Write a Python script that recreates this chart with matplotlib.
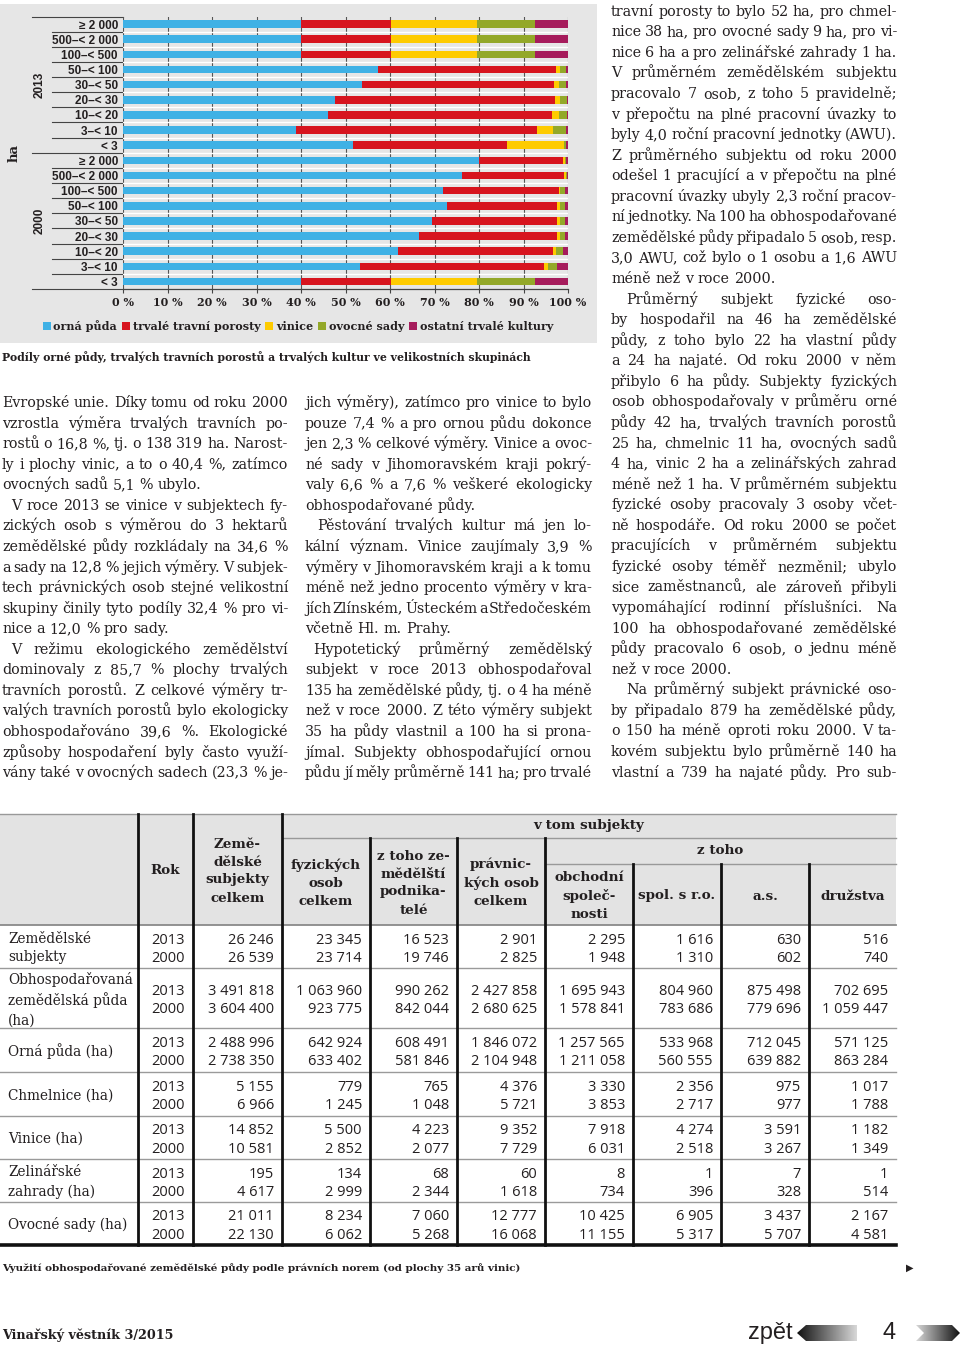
import numpy as np
import matplotlib
matplotlib.use('Agg')
import matplotlib.pyplot as plt
from matplotlib.font_manager import FontProperties
from matplotlib.patches import Polygon, Rectangle
from matplotlib.colors import LinearSegmentedColormap

W, H = 960, 1349
INK = '#231f20'

# --- graf: podíly kultur ve velikostních skupinách (%) ---
groups = ['≥ 2 000', '500–< 2 000', '100–< 500', '50–< 100', '30–< 50',
          '20–< 30', '10–< 20', '3–< 10', '< 3']
years = ['2013', '2000']
series = ['orná půda', 'trvalé travní porosty', 'vinice', 'ovocné sady',
          'ostatní trvalé kultury']
colors = ['#3fb1e5', '#d7141e', '#fecb00', '#93a829', '#a61c5c']

orna = [40.0, 40.0, 40.0, 57.4, 53.6, 47.6, 46.1, 38.9, 51.6,
        80.1, 76.2, 72.0, 72.7, 69.5, 66.6, 61.9, 53.3, 40.0]
ttp = [20.2, 20.2, 20.2, 40.0, 43.3, 49.5, 50.2, 54.2, 34.8,
       18.7, 23.0, 25.9, 24.9, 28.1, 31.0, 34.8, 41.4, 20.2]
vinice = [19.3, 19.3, 19.3, 0.8, 1.0, 1.1, 1.6, 3.6, 12.6,
          0.5, 0.4, 0.3, 0.6, 0.6, 0.6, 0.5, 0.7, 19.3]
sady = [13.1, 13.1, 13.1, 1.3, 1.6, 1.5, 1.8, 2.8, 0.5,
        0.2, 0.1, 1.1, 1.1, 1.1, 1.1, 1.6, 2.2, 13.1]
ostatni = [7.4, 7.4, 7.4, 0.5, 0.5, 0.3, 0.3, 0.5, 0.5,
           0.5, 0.3, 0.7, 0.7, 0.7, 0.7, 1.2, 2.4, 7.4]

# --- tabulka ---
tab_rows = ['Zemědělské\nsubjekty', 'Obhospodařovaná\nzemědělská půda\n(ha)',
            'Orná půda (ha)', 'Chmelnice (ha)', 'Vinice (ha)',
            'Zelinářské\nzahrady (ha)', 'Ovocné sady (ha)']
tab_head = ['Rok', 'Země-\ndělské\nsubjekty\ncelkem', 'fyzických\nosob\ncelkem',
            'z toho ze-\nmědělští\npodnika-\ntelé', 'právnic-\nkých osob\ncelkem',
            'obchodní\nspoleč-\nnosti', 'spol. s r.o.', 'a.s.', 'družstva']
col_celkem = ['26 246', '26 539', '3 491 818', '3 604 400', '2 488 996', '2 738 350',
              '5 155', '6 966', '14 852', '10 581', '195', '4 617', '21 011', '22 130']
col_fyz = ['23 345', '23 714', '1 063 960', '923 775', '642 924', '633 402',
           '779', '1 245', '5 500', '2 852', '134', '2 999', '8 234', '6 062']
col_podn = ['16 523', '19 746', '990 262', '842 044', '608 491', '581 846',
            '765', '1 048', '4 223', '2 077', '68', '2 344', '7 060', '5 268']
col_pravn = ['2 901', '2 825', '2 427 858', '2 680 625', '1 846 072', '2 104 948',
             '4 376', '5 721', '9 352', '7 729', '60', '1 618', '12 777', '16 068']
col_obch = ['2 295', '1 948', '1 695 943', '1 578 841', '1 257 565', '1 211 058',
            '3 330', '3 853', '7 918', '6 031', '8', '734', '10 425', '11 155']
col_sro = ['1 616', '1 310', '804 960', '783 686', '533 968', '560 555',
           '2 356', '2 717', '4 274', '2 518', '1', '396', '6 905', '5 317']
col_as = ['630', '602', '875 498', '779 696', '712 045', '639 882',
          '975', '977', '3 591', '3 267', '7', '328', '3 437', '5 707']
col_druz = ['516', '740', '702 695', '1 059 447', '571 125', '863 284',
            '1 017', '1 788', '1 182', '1 349', '1', '514', '2 167', '4 581']

# --- text článku: (odsazení, řádky, pokračuje dál) ---
text_left = [
    (0, ['Evropské unie. Díky tomu od roku 2000',
         'vzrostla výměra trvalých travních po-',
         'rostů o 16,8 %, tj. o 138 319 ha. Narost-',
         'ly i plochy vinic, a to o 40,4 %, zatímco',
         'ovocných sadů 5,1 % ubylo.'], False),
    (9, ['V roce 2013 se vinice v subjektech fy-',
         'zických osob s výměrou do 3 hektarů',
         'zemědělské půdy rozkládaly na 34,6 %',
         'a sady na 12,8 % jejich výměry. V subjek-',
         'tech právnických osob stejné velikostní',
         'skupiny činily tyto podíly 32,4 % pro vi-',
         'nice a 12,0 % pro sady.'], False),
    (9, ['V režimu ekologického zemědělství',
         'dominovaly z 85,7 % plochy trvalých',
         'travních porostů. Z celkové výměry tr-',
         'valých travních porostů bylo ekologicky',
         'obhospodařováno 39,6 %. Ekologické',
         'způsoby hospodaření byly často využí-',
         'vány také v ovocných sadech (23,3 % je-'], True),
]
text_mid = [
    (0, ['jich výměry), zatímco pro vinice to bylo',
         'pouze 7,4 % a pro ornou půdu dokonce',
         'jen 2,3 % celkové výměry. Vinice a ovoc-',
         'né sady v Jihomoravském kraji pokrý-',
         'valy 6,6 % a 7,6 % veškeré ekologicky',
         'obhospodařované půdy.'], False),
    (12, ['Pěstování trvalých kultur má jen lo-',
          'kální význam. Vinice zaujímaly 3,9 %',
          'výměry v Jihomoravském kraji a k tomu',
          'méně než jedno procento výměry v kra-',
          'jích Zlínském, Ústeckém a Středočeském',
          'včetně Hl. m. Prahy.'], False),
    (8, ['Hypotetický průměrný zemědělský',
         'subjekt v roce 2013 obhospodařoval',
         '135 ha zemědělské půdy, tj. o 4 ha méně',
         'než v roce 2000. Z této výměry subjekt',
         '35 ha půdy vlastnil a 100 ha si prona-',
         'jímal. Subjekty obhospodařující ornou',
         'půdu jí měly průměrně 141 ha; pro trvalé'], True),
]
text_right = [
    (0, ['travní porosty to bylo 52 ha, pro chmel-',
         'nice 38 ha, pro ovocné sady 9 ha, pro vi-',
         'nice 6 ha a pro zelinářské zahrady 1 ha.',
         'V průměrném zemědělském subjektu',
         'pracovalo 7 osob, z toho 5 pravidelně;',
         'v přepočtu na plné pracovní úvazky to',
         'byly 4,0 roční pracovní jednotky (AWU).',
         'Z průměrného subjektu od roku 2000',
         'odešel 1 pracující a v přepočtu na plné',
         'pracovní úvazky ubyly 2,3 roční pracov-',
         'ní jednotky. Na 100 ha obhospodařované',
         'zemědělské půdy připadalo 5 osob, resp.',
         '3,0 AWU, což bylo o 1 osobu a 1,6 AWU',
         'méně než v roce 2000.'], False),
    (15, ['Průměrný subjekt fyzické oso-',
          'by hospodařil na 46 ha zemědělské',
          'půdy, z toho bylo 22 ha vlastní půdy',
          'a 24 ha najaté. Od roku 2000 v něm',
          'přibylo 6 ha půdy. Subjekty fyzických',
          'osob obhospodařovaly v průměru orné',
          'půdy 42 ha, trvalých travních porostů',
          '25 ha, chmelnic 11 ha, ovocných sadů',
          '4 ha, vinic 2 ha a zelinářských zahrad',
          'méně než 1 ha. V průměrném subjektu',
          'fyzické osoby pracovaly 3 osoby včet-',
          'ně hospodáře. Od roku 2000 se počet',
          'pracujících v průměrném subjektu',
          'fyzické osoby téměř nezměnil; ubylo',
          'sice zaměstnanců, ale zároveň přibyli',
          'vypomáhající rodinní příslušníci. Na',
          '100 ha obhospodařované zemědělské',
          'půdy pracovalo 6 osob, o jednu méně',
          'než v roce 2000.'], False),
    (15, ['Na průměrný subjekt právnické oso-',
          'by připadalo 879 ha zemědělské půdy,',
          'o 150 ha méně oproti roku 2000. V ta-',
          'kovém subjektu bylo průměrně 140 ha',
          'vlastní a 739 ha najaté půdy. Pro sub-'], True),
]

fig = plt.figure(figsize=(W / 100, H / 100), dpi=100)
pg = fig.add_axes([0, 0, 1, 1])
pg.axis('off')


def fx(x):
    return x / W


def fy(y):
    return 1 - y / H


# šedý podklad grafu
pg.add_patch(Rectangle((0, 4), 597, 339, color='#e6e6e6', lw=0, zorder=0))

top, bot = 16.5, 289
ax = fig.add_axes([fx(123), fy(bot), fx(568) - fx(123), fy(top) - fy(bot)])
ax.set_facecolor('none')
labels = groups * 2
yy = np.arange(len(labels))
left = np.zeros(len(labels))
for vals, col, name in zip([orna, ttp, vinice, sady, ostatni], colors, series):
    ax.barh(yy, vals, left=left, height=0.5, color=col, label=name, zorder=3)
    left = left + np.array(vals)

ax.set_xlim(0, 100)
ax.set_ylim(len(labels) - 0.5, -0.5)
ax.set_xticks(np.arange(0, 101, 10))
ax.set_xticklabels([f'{v} %' for v in range(0, 101, 10)], fontsize=8,
                   fontweight='bold', family='DejaVu Serif', color=INK)
ax.set_yticks(yy)
ax.set_yticklabels(labels, fontsize=8.5, fontweight='bold',
                   family='Liberation Sans', color=INK)
ax.tick_params(axis='y', length=0, pad=3.6)
ax.tick_params(axis='x', length=3, width=0.8, color='#444444', pad=3)
for s in ['top', 'right', 'left']:
    ax.spines[s].set_visible(False)
ax.spines['bottom'].set_color('#444444')
ax.spines['bottom'].set_linewidth(0.9)
ax.set_axisbelow(True)
ax.grid(axis='x', color='#555555', lw=0.8)
for b in np.arange(0.5, len(labels) - 1, 1):
    ax.axhline(b, color='white', lw=1, zorder=1)

# čáry u popisků řádků
step = (bot - top) / len(labels)
for k in range(len(labels) + 1):
    ly = top + k * step
    pg.plot([32 if k % 9 == 0 else 52, 123], [ly, ly], color='#444444', lw=0.8)
for i, yr in enumerate(years):
    pg.text(40, top + (i * 9 + 4.5) * step, yr, rotation=90, ha='center',
            va='center', fontsize=8.5, fontweight='bold',
            family='Liberation Sans', color=INK)
pg.text(14, (top + bot) / 2, 'ha', rotation=90, ha='center', va='center',
        fontsize=9.5, fontweight='bold', family='DejaVu Serif', color=INK)

leg = ax.legend(loc='center', bbox_to_anchor=(fx(298), fy(326)),
                bbox_transform=fig.transFigure, ncol=5, frameon=False,
                handlelength=0.7, handleheight=0.7, handletextpad=0.25,
                columnspacing=0.45, borderpad=0,
                prop=FontProperties(family='DejaVu Serif', weight='bold', size=8))
for t in leg.get_texts():
    t.set_color(INK)

pg.text(2, 357, 'Podíly orné půdy, trvalých travních porostů a trvalých kultur '
        've velikostních skupinách', ha='left', va='center', fontsize=7.85,
        fontweight='bold', family='DejaVu Serif', color=INK)

# --- sazba textu do bloku ---
renderer = fig.canvas.get_renderer()


def tw(s, fp):
    return renderer.get_text_width_height_descent(s, fp, ismath=False)[0]


columns = [(text_left, 2, 288, 407.0), (text_mid, 305, 592, 407.0),
           (text_right, 611, 897, 15.7)]
base = FontProperties(family='DejaVu Serif', size=10)
sp = tw('a a', base) - tw('aa', base)
fit = 1.3
for paras, x0, x1, y0 in columns:
    for indent, lines, cont in paras:
        for i, line in enumerate(lines):
            words = line.split(' ')
            ww = sum(tw(w, base) for w in words)
            avail = x1 - x0 - (indent if i == 0 else 0)
            last = i == len(lines) - 1 and not cont
            need = ww + (len(words) - 1) * sp * (1.0 if last else 0.35)
            fit = min(fit, avail / need)
body = FontProperties(family='DejaVu Serif', size=10 * fit)
sp = tw('a a', body) - tw('aa', body)
dy = 20.565
for paras, x0, x1, y0 in columns:
    k = 0
    for indent, lines, cont in paras:
        for i, line in enumerate(lines):
            words = line.split(' ')
            ws = [tw(w, body) for w in words]
            xs = x0 + (indent if i == 0 else 0)
            last = i == len(lines) - 1 and not cont
            gap = sp if last or len(words) < 2 else (x1 - xs - sum(ws)) / (len(words) - 1)
            x = xs
            for w, wd in zip(words, ws):
                pg.text(x, y0 + k * dy, w, fontproperties=body, va='baseline',
                        ha='left', color=INK)
                x += wd + gap
            k += 1

# --- tabulka ---
tx_r = 896
pg.add_patch(Rectangle((0, 814), tx_r, 111, color='#e3e3e3', lw=0, zorder=0))
pg.plot([0, tx_r], [813.5, 813.5], color='#999999', lw=1)
pg.plot([282, tx_r], [838, 838], color='#999999', lw=1)
pg.plot([545, tx_r], [864, 864], color='#999999', lw=1)
pg.plot([0, tx_r], [925, 925], color='#8a8a8a', lw=1.3)
row_b = [925, 968, 1028, 1072, 1116, 1159, 1202, 1245]
for b in row_b[1:-1]:
    pg.plot([0, tx_r], [b, b], color='#9a9a9a', lw=1)
pg.plot([0, tx_r], [1245, 1245], color='#111111', lw=2.6)
vlines = [(138, 814), (193, 814), (282, 814), (370, 838), (457, 838),
          (545, 838), (633, 864), (721, 864), (809, 864)]
for vx, vt in vlines:
    pg.plot([vx, vx], [vt, 1245], color='#111111', lw=2.0)

head_fp = dict(family='DejaVu Serif', fontweight='bold', fontsize=9.7,
               color=INK, linespacing=1.5)
pg.text(589, 826, 'v tom subjekty', ha='center', va='center', **head_fp)
pg.text(720, 851, 'z toho', ha='center', va='center', **head_fp)
col_edges = [138, 193, 282, 370, 457, 545, 633, 721, 809, tx_r]
head_tops = [814, 814, 838, 838, 838, 864, 864, 864, 864]
for j, h in enumerate(tab_head):
    cx = (col_edges[j] + col_edges[j + 1]) / 2
    cy = (head_tops[j] + 925) / 2 + 1.5
    pg.text(cx, cy, h, ha='center', va='center', multialignment='center', **head_fp)

num_fp = dict(family='Open Sans', fontsize=10.5, color=INK)
tab_cols = [col_celkem, col_fyz, col_podn, col_pravn, col_obch, col_sro, col_as, col_druz]
for r, lab in enumerate(tab_rows):
    cy = (row_b[r] + row_b[r + 1]) / 2
    pg.text(8, cy + 1.5, lab, ha='left', va='center', family='DejaVu Serif',
            fontsize=9.8, color=INK, linespacing=1.45)
    for yi, yr in enumerate(years):
        by = cy - 3 + yi * 18.3
        pg.text(col_edges[1] - 8, by, yr, ha='right', va='baseline', **num_fp)
        for c, vals in enumerate(tab_cols):
            pg.text(col_edges[c + 2] - 8, by, vals[2 * r + yi], ha='right',
                    va='baseline', **num_fp)

pg.text(2, 1268, 'Využití obhospodařované zemědělské půdy podle právních norem '
        '(od plochy 35 arů vinic)', ha='left', va='center', fontsize=7.45,
        fontweight='bold', family='DejaVu Serif', color=INK)
pg.text(910, 1268, '▶', ha='center', va='center', fontsize=7,
        family='DejaVu Sans', color=INK)

# --- patička ---
pg.text(2, 1335, 'Vinařský věstník 3/2015', ha='left', va='center',
        fontsize=9.2, fontweight='bold', family='DejaVu Serif', color=INK)
pg.text(770, 1333, 'zpět', ha='center', va='center', fontsize=17,
        family='Liberation Sans', color=INK)
pg.text(889, 1333, '4', ha='center', va='center', fontsize=17,
        family='Liberation Sans', color=INK)
grad = np.linspace(0, 1, 256).reshape(1, -1)
arrow_l = Polygon([(797, 1333), (806, 1325), (857, 1325), (857, 1341), (806, 1341)],
                  closed=True, fc='none', ec='none')
arrow_r = Polygon([(916, 1325), (952, 1325), (960, 1333), (952, 1341), (916, 1341),
                   (924, 1333)], closed=True, fc='none', ec='none')
for poly, (x0, x1), cols in [(arrow_l, (797, 857), ['#111111', '#d8d8d8']),
                             (arrow_r, (916, 960), ['#d8d8d8', '#111111'])]:
    pg.add_patch(poly)
    im = pg.imshow(grad, extent=(x0, x1, 1341, 1325), aspect='auto',
                   cmap=LinearSegmentedColormap.from_list('g', cols))
    im.set_clip_path(poly)

pg.set_xlim(0, W)
pg.set_ylim(H, 0)
fig.savefig('out.png', dpi=100)
